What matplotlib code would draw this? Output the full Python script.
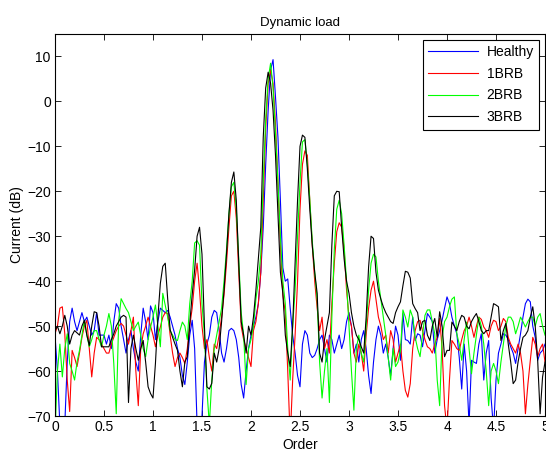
import numpy as np
import matplotlib
matplotlib.use('Agg')
import matplotlib.pyplot as plt

plt.rcParams['font.family'] = ['Liberation Sans', 'DejaVu Sans']

# harmonic order axis, 0 to 5 in steps of 0.025
order = np.linspace(0, 5, 201)

healthy = [
    -52, -60, -72, -75, -72, -58, -49, -46, -49, -51, -49, -47, -49, -48, -50, -52, -51, -47, -52, -52,
    -52, -54, -52, -55, -49, -45, -46, -50, -53, -56, -53, -51, -55, -58, -60, -52, -46, -49, -53, -45.5,
    -47, -53, -49, -46, -46.5, -47, -46.5, -48, -50, -52, -55, -57, -61, -63, -58, -52, -48.7, -55, -72, -76,
    -70, -58, -54, -52, -48, -46.5, -47, -51, -56, -58, -55, -51, -50.5, -51, -53, -57, -63, -66, -60, -55,
    -52, -50, -48, -45, -38, -28, -14, -2, 7, 9.3, 1, -8, -22, -37, -40, -39.5, -46, -52, -56, -61,
    -63.5, -54, -51, -52, -56, -57, -56.5, -55, -53, -52, -55, -58, -52, -53, -56, -54, -52, -55, -53, -49,
    -47, -50, -56, -54, -58, -53, -51, -55, -61, -65, -58, -53, -50, -52, -56, -54, -57, -61, -55, -50,
    -52, -57.6, -47.2, -53, -53.2, -54, -48, -53.2, -51.7, -52, -54.6, -51, -47.2, -48, -49, -56, -53, -51, -48.7, -46,
    -43.5, -45, -48, -50, -51.7, -57, -64, -54, -60, -72, -57.6, -58, -58.3, -54, -51.7, -62, -56, -53.2, -66, -73,
    -62, -56, -54, -51.7, -52, -53, -54.6, -56, -58.3, -55, -51.7, -48, -45, -44, -44.6, -50, -52.5, -57.6, -56, -55.4,
    -54,
]

brb1 = [
    -51.7, -50, -46, -45.7, -51.7, -62, -69, -55.4, -57, -59, -56, -52.5, -50, -48.7, -55, -61.3, -56, -52.5, -53, -54,
    -55, -56, -56, -54, -52.5, -51, -50, -49.4, -50, -52, -54, -51, -48, -60, -67.7, -55, -51.7, -50, -48, -50,
    -52, -54.6, -52, -50.2, -48, -47, -47.2, -52, -56, -59, -57, -56, -57, -58.3, -55, -50, -46, -40, -36, -42,
    -50, -55, -53, -57, -60, -54, -55, -52, -48, -43, -36, -28, -21, -20, -26, -38, -50, -53, -55, -57,
    -59, -51, -49, -45, -38, -22, -6, 4, 7, 4, -5, -18, -32, -43, -47, -60, -75, -62, -52, -40,
    -24, -14, -11, -12, -22, -32, -40, -46, -51, -48, -55, -53, -56, -45, -36, -29, -27, -28, -33, -42,
    -48, -50, -56, -58, -54, -56, -60, -52, -46, -42, -40, -44, -48, -50, -53, -52, -56, -51, -53, -58,
    -56, -54, -60, -64.3, -65.8, -62.8, -55, -51, -49, -48.7, -51, -53, -54.6, -55, -56, -54, -52.5, -48.3, -55, -67.7,
    -73, -62, -53.2, -54, -55, -55.4, -53, -51, -50, -48, -50, -52.5, -50, -48, -48.5, -50.2, -51, -52.5, -50, -48.7,
    -49, -51, -50, -48.3, -49, -52.5, -54, -55, -56, -54, -56, -60, -69.5, -63, -57.6, -52.5, -54, -56.8, -55, -54,
    -58,
]

brb2 = [
    -74, -60, -54, -61.3, -55, -51.7, -58.3, -60, -62, -58, -55.4, -52, -48.7, -52, -54.6, -53, -51, -51, -53, -54.6,
    -52, -50, -47.2, -50, -58.3, -69.5, -48.7, -43.9, -45, -46.1, -47, -49, -51, -50, -49.1, -52, -55, -56.8, -53, -50.2,
    -48, -45.3, -50, -54.6, -42.7, -45.3, -48, -51, -52, -53, -53.2, -51, -49.1, -50, -53, -45, -40, -31.5, -31, -32,
    -45, -52, -64, -72, -62, -55, -52, -49, -46, -40, -33, -25, -19, -18, -24, -35, -47, -52, -63, -55,
    -53, -50, -44, -40, -34, -18, -4, 5, 8.5, 3, -7, -18, -30, -40, -45, -55, -62, -50, -42, -30,
    -18, -9, -8.5, -14, -22, -31, -38, -44, -58, -66, -60, -55, -67, -48, -33, -24, -22, -25, -32, -40,
    -50, -60, -68.7, -55, -52, -56, -58, -50, -42, -36, -34, -34.6, -40, -44, -48, -52, -57, -62, -55, -59,
    -58, -55.4, -46.4, -48, -50.2, -46.4, -48, -52.5, -55, -56.8, -52, -47.6, -46.4, -46.4, -49, -51.7, -62, -67.7, -52.5, -49,
    -48, -45.7, -44, -43.5, -51.7, -54, -57.6, -53, -49.1, -55, -60.6, -56, -52, -48, -50, -54, -60, -67.7, -60, -58.3,
    -60, -62.8, -58, -54, -50, -48, -48, -49, -51.7, -50, -48, -49, -50.2, -49, -48, -48, -50, -48, -47.2, -50,
    -52,
]

brb3 = [
    -51, -50, -51.7, -50, -47.6, -50, -54, -52, -51, -51.5, -52, -50, -48.7, -52, -54.3, -50, -46.8, -47, -50, -54.6,
    -54.6, -54.6, -54.6, -53, -51.7, -50, -49, -48, -47.6, -48, -67, -55, -52, -55, -57.6, -55, -53.2, -58, -63.5, -65,
    -66, -58.3, -48, -40.5, -36.7, -36, -44, -50.8, -52.5, -54, -55.4, -60, -63.5, -58, -56.8, -49.4, -43, -37.5, -30, -28,
    -34, -50, -63.5, -64, -62.7, -56, -58, -55, -49, -42, -34, -25, -18, -15.7, -22, -36, -49, -52, -56, -50,
    -52, -48, -42, -35, -28, -8, 3, 6.5, 4, -2, -12, -25, -38, -42.7, -52, -56, -59, -50, -36, -22,
    -10, -7.5, -8, -15, -24, -32, -38, -42.7, -56, -58, -53, -50, -47, -32, -21, -20, -20.1, -28, -35, -40,
    -42.7, -47, -50, -52, -53, -54.6, -56, -48, -36.8, -30, -30.5, -38, -42, -44, -45.7, -47, -48, -49, -49.4, -47,
    -45.7, -44.6, -41, -37.8, -38, -39.3, -45, -46.1, -47, -51, -49, -48.7, -52, -53.2, -50, -48.3, -52.5, -46.8, -50, -56.8,
    -55.4, -55.4, -49.1, -50, -51, -49, -47.6, -48, -50, -50.6, -49, -48, -47.2, -49, -51, -51.7, -51, -51, -48, -45,
    -45.3, -45.7, -53.2, -51, -49.4, -54, -58, -62.8, -62, -58, -55, -52.5, -52, -51, -48, -45.7, -50, -57.6, -69.5, -61.3,
    -58,
]

labels = ['Healthy', '1BRB', '2BRB', '3BRB']
colors = ['#0000ff', '#ff0000', '#00ff00', '#000000']

fig = plt.figure(figsize=(5.46, 4.57), dpi=100)
ax = fig.add_axes([0.1007, 0.0897, 0.8975, 0.8359])

for y, lab, c in zip([healthy, brb1, brb2, brb3], labels, colors):
    ax.plot(order, y, color=c, lw=0.8, label=lab)

ax.set_xlim(0, 5)
ax.set_ylim(-70, 15)
ax.set_xticks(np.arange(0, 5.01, 0.5))
ax.set_xticklabels(['0', '0.5', '1', '1.5', '2', '2.5', '3', '3.5', '4', '4.5', '5'])
ax.set_yticks(np.arange(-70, 11, 10))
ax.tick_params(direction='in', top=True, right=True, length=4, width=0.6, labelsize=10, pad=3)
for s in ax.spines.values():
    s.set_linewidth(0.8)

ax.set_xlabel('Order', fontsize=10, labelpad=3)
ax.set_ylabel('Current (dB)', fontsize=10, labelpad=2)
ax.set_title('Dynamic load', fontsize=9.5, pad=6)

leg = ax.legend(loc='upper right', fontsize=10, handlelength=3.6, fancybox=False,
                edgecolor='black', framealpha=1, borderaxespad=0.4, labelspacing=0.55,
                borderpad=0.4, handletextpad=0.6)
leg.get_frame().set_linewidth(0.8)

fig.savefig('out.png', dpi=100)
